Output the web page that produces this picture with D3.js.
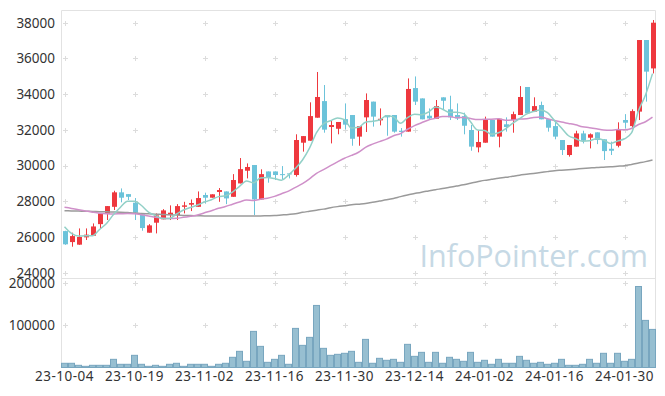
<!DOCTYPE html>
<html><head><meta charset="utf-8">
<script src="https://cdn.jsdelivr.net/npm/d3@7"></script>
<style>body{margin:0;background:#fff}svg{display:block}text{font-family:"Noto Sans",sans-serif}</style>
</head><body>
<script>
const dates = [
"23-10-04","23-10-05","23-10-06","23-10-10","23-10-11","23-10-12","23-10-13","23-10-16","23-10-17","23-10-18",
"23-10-19","23-10-20","23-10-23","23-10-24","23-10-25","23-10-26","23-10-27","23-10-30","23-10-31","23-11-01",
"23-11-02","23-11-03","23-11-06","23-11-07","23-11-08","23-11-09","23-11-10","23-11-13","23-11-14","23-11-15",
"23-11-16","23-11-17","23-11-20","23-11-21","23-11-22","23-11-23","23-11-24","23-11-27","23-11-28","23-11-29",
"23-11-30","23-12-01","23-12-04","23-12-05","23-12-06","23-12-07","23-12-08","23-12-11","23-12-12","23-12-13",
"23-12-14","23-12-15","23-12-18","23-12-19","23-12-20","23-12-21","23-12-22","23-12-26","23-12-27","23-12-28",
"24-01-02","24-01-03","24-01-04","24-01-05","24-01-08","24-01-09","24-01-10","24-01-11","24-01-12","24-01-15",
"24-01-16","24-01-17","24-01-18","24-01-19","24-01-22","24-01-23","24-01-24","24-01-25","24-01-26","24-01-29",
"24-01-30","24-01-31","24-02-01","24-02-02","24-02-05"];
const opens = [26330,25715,25570,25980,26070,26720,27300,27690,28500,28400,
27920,27270,26240,26800,26990,27230,27230,27690,27810,27690,
28350,28200,28520,28550,28250,29000,29710,30030,28100,29670,
29670,29520,29560,29470,31280,31390,32680,33610,32160,32060,
32600,32830,31620,32700,33580,32530,32830,32830,31950,31900,
34340,33760,32790,32620,33820,33150,32830,32770,31990,31020,
31280,32550,31620,32310,32550,32830,34400,33020,33390,32600,
32210,31430,30590,31060,31800,31560,31860,31470,30940,31110,
32550,32210,33020,37030,35440];
const highs = [26350,26240,26480,26480,26760,27320,27730,28590,28720,28400,
28180,27270,26720,27320,27560,27770,27840,27970,28100,28550,
28480,28390,28740,28550,29520,30420,30120,30030,29790,29670,
29670,29970,29560,31750,31650,33540,35240,34510,32510,32440,
33480,32830,32210,34040,33580,33200,32830,32830,32100,34880,
34990,33760,33200,33670,33820,33910,33480,32960,32270,31990,
32740,32550,32620,32700,33020,34450,34400,33820,33580,32600,
32460,31430,31150,31950,31950,31800,31860,31470,31340,32420,
32880,33150,37030,37030,38150];
const lows = [25560,25455,25560,25830,26070,26480,26950,27510,27940,28070,
26950,26350,26240,26200,26990,26950,26950,27320,27450,27690,
27880,28200,27970,27840,28250,29000,29280,27230,28100,29040,
29190,29220,29280,29380,30780,31390,32680,31840,31240,31750,
32030,31110,31110,31880,32180,32250,31670,31840,31620,31900,
33390,32590,32550,32620,33110,32550,32550,31750,30830,30740,
31280,31620,31020,31900,31840,32830,32920,33020,32590,31900,
31470,30590,30500,31060,31240,30960,31200,30310,30590,31020,
32080,32080,32550,33580,35160];
const closes = [25590,26050,26000,26130,26590,27320,27730,28500,28200,28250,
27360,26500,26650,27210,27490,27360,27730,27770,27900,28180,
28200,28390,28630,28160,29190,29800,29920,28100,29520,29340,
29470,29490,29520,31430,31650,32770,33840,32010,32270,32440,
32290,31500,32210,33670,32740,32620,32700,31900,31880,34290,
33580,32590,32640,33330,33630,32700,32640,32230,31060,31320,
32550,31620,32620,32160,32880,33840,32920,33330,32590,32120,
31620,30870,31150,31800,31390,31750,31430,30810,30830,32030,
32400,33050,37030,35260,38000];
const volumes = [10000,10000,5200,2800,5200,5200,5200,19400,7600,7600,
28900,7600,2800,5200,2800,7600,10000,2800,7600,7600,
7600,2800,7600,10000,24200,38400,14700,85800,50200,12300,
19400,28900,7600,92900,52600,71600,147400,45500,28900,31300,
33700,38400,12300,66800,10000,21800,17100,19400,12300,55000,
26500,36000,12300,36000,10000,24200,19400,14700,36000,12300,
17100,7600,19400,10000,10000,26500,17100,10000,12300,7600,
10000,19400,5200,5200,7600,19400,10000,33700,10000,33700,
14700,19400,192400,111900,90500];
// closes before 23-10-04 (at the left edge)
const prevCloses = [27920,26750,26030,26590];
// 20-day line at the left edge, before 20 closes are available
const ma20Head = [27660,27600,27530,27460,27390,27330,27300,27290,27300,27310,
27300,27250,27180,27100,27050,27040,27050,27100,27160];
// long-term (grey) average
const maLong = [27470,27460,27450,27440,27430,27420,27410,27400,27390,27370,
27350,27320,27300,27280,27260,27240,27230,27210,27200,27190,
27180,27175,27170,27170,27170,27170,27170,27175,27180,27190,
27200,27230,27260,27300,27380,27440,27500,27560,27640,27700,
27750,27800,27840,27880,27940,28010,28080,28160,28260,28350,
28430,28510,28580,28650,28710,28780,28850,28920,29010,29090,
29170,29230,29290,29340,29400,29460,29510,29560,29610,29660,
29710,29740,29770,29800,29830,29860,29890,29910,29930,29960,
29990,30060,30140,30220,30310];
const priceTicks = [24000,26000,28000,30000,32000,34000,36000,38000];
const volumeTicks = [100000,200000];
const dateTicks = ["23-10-04","23-10-19","23-11-02","23-11-16","23-11-30","23-12-14","24-01-02","24-01-16","24-01-30"];

const allCloses = prevCloses.concat(closes);
const ma5 = closes.map((c,i)=> d3.mean(allCloses.slice(i, i+5)));
const ma20 = closes.map((c,i)=> i < 19 ? ma20Head[i] : d3.mean(closes.slice(i-19, i+1)));

const W=665,H=396;
const L=61.5,R=655.5,T=10.5,SEP=278.5,B=367.5;
const svg=d3.select("body").append("svg").attr("width",W).attr("height",H);

const x=d3.scaleBand().domain(dates).range([61,656]).padding(0);
const cx=d=>x(d)+x.bandwidth()/2;
const y=d3.scaleLinear().domain([24000,38000]).range([272.7,22.7]);
const yv=d3.scaleLinear().domain([0,200000]).range([367.5,283.3]);

const grid="#e2e2e2";
// frame
const frame=svg.append("g").attr("stroke",grid).attr("stroke-width",1).attr("fill","none");
frame.append("line").attr("x1",L).attr("x2",L).attr("y1",T).attr("y2",B);
frame.append("line").attr("x1",R).attr("x2",R).attr("y1",T).attr("y2",B);
frame.append("line").attr("x1",L).attr("x2",R).attr("y1",T).attr("y2",T);
frame.append("line").attr("x1",L).attr("x2",R).attr("y1",SEP).attr("y2",SEP);

// plus markers
const plus=svg.append("g").attr("stroke","#dcdcdc").attr("stroke-width",1);
const gx=dateTicks.map(d=>Math.round(cx(d))+0.5);
const gyP=priceTicks.map(v=>Math.round(y(v))+0.5);
const gyV=volumeTicks.map(v=>Math.round(yv(v))+0.5);
gx.forEach(px=>{gyP.concat(gyV).forEach(py=>{
  plus.append("line").attr("x1",px-2.5).attr("x2",px+2.5).attr("y1",py).attr("y2",py);
  plus.append("line").attr("x1",px).attr("x2",px).attr("y1",py-2.5).attr("y2",py+2.5);
});});

// watermark
svg.append("text").attr("x",648).attr("y",267).attr("text-anchor","end")
  .attr("font-size",30.5).attr("fill","#c6d9e5").style("font-family","'Open Sans',sans-serif")
  .text("InfoPointer.com");

// axis labels
const yAxis=d3.axisLeft(y).tickValues(priceTicks).tickSize(0).tickPadding(6).tickFormat(d3.format("d"));
const ga=svg.append("g").attr("transform","translate(61,0)").call(yAxis);
const yvAxis=d3.axisLeft(yv).tickValues(volumeTicks).tickSize(0).tickPadding(6).tickFormat(d3.format("d"));
const gb=svg.append("g").attr("transform","translate(61,0)").call(yvAxis);
const xAxis=d3.axisBottom(x).tickValues(dateTicks).tickSize(0).tickPadding(4);
const gc=svg.append("g").attr("transform","translate(0,367)").call(xAxis);
[ga,gb,gc].forEach(g=>{g.select(".domain").remove();g.selectAll("text").attr("fill","#333").attr("font-size",13.5).style("font-family","'Noto Sans',sans-serif");});
gc.selectAll("text").attr("letter-spacing","0.5px");

// volume bars
svg.append("g").selectAll("rect").data(dates).join("rect")
  .attr("x",d=>x(d)+0.5).attr("width",x.bandwidth()-1)
  .attr("y",(d,i)=>yv(volumes[i])).attr("height",(d,i)=>yv(0)-yv(volumes[i]))
  .attr("fill","#97bfd1").attr("stroke","#78a6bf").attr("stroke-width",1);

// candles
const up="#ee383e", down="#6cc3da";
const cg=svg.append("g");
cg.selectAll("line").data(dates).join("line")
  .attr("x1",d=>Math.round(cx(d))+0.5).attr("x2",d=>Math.round(cx(d))+0.5)
  .attr("y1",(d,i)=>y(highs[i])).attr("y2",(d,i)=>y(lows[i]))
  .attr("stroke",(d,i)=>closes[i]>=opens[i]?up:down).attr("stroke-width",1);
cg.selectAll("rect").data(dates).join("rect")
  .attr("x",d=>Math.round(cx(d))-2).attr("width",5)
  .attr("y",(d,i)=>y(Math.max(opens[i],closes[i])))
  .attr("height",(d,i)=>Math.max(1,Math.abs(y(opens[i])-y(closes[i]))))
  .attr("fill",(d,i)=>closes[i]>=opens[i]?up:down);

// moving averages
const line=arr=>d3.line().curve(d3.curveMonotoneX).x((d,i)=>cx(dates[i])).y(d=>y(d))(arr);
svg.append("path").attr("d",line(maLong)).attr("fill","none").attr("stroke","#9a9a9a").attr("stroke-width",1.5);
svg.append("path").attr("d",line(ma20)).attr("fill","none").attr("stroke","#cf90c9").attr("stroke-width",1.5);
svg.append("path").attr("d",line(ma5)).attr("fill","none").attr("stroke","#92d0c7").attr("stroke-width",1.5);
</script>
</body></html>
